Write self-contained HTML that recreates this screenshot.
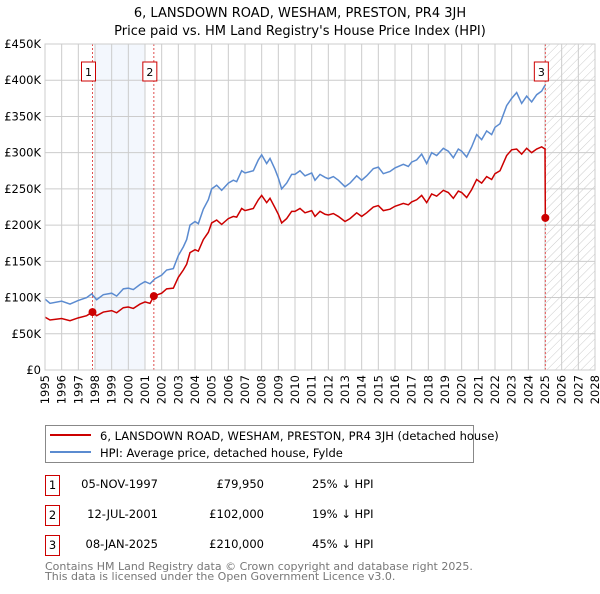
<!DOCTYPE html>
<html><head><meta charset="utf-8"><style>
body{margin:0;background:#fff;font-family:"DejaVu Sans","Liberation Sans",sans-serif;}
svg text{font-family:"DejaVu Sans","Liberation Sans",sans-serif;}
</style></head><body>
<svg id="chart" width="600" height="590" xmlns="http://www.w3.org/2000/svg">
<defs><pattern id="hatch" width="6" height="6" patternUnits="userSpaceOnUse" patternTransform="rotate(45)"><line x1="0" y1="0" x2="0" y2="6" stroke="#ccc" stroke-width="1"/></pattern></defs>
<text x="300" y="17" text-anchor="middle" font-size="13">6, LANSDOWN ROAD, WESHAM, PRESTON, PR4 3JH</text>
<text x="300" y="35" text-anchor="middle" font-size="13">Price paid vs. HM Land Registry's House Price Index (HPI)</text>
<g id="plot"></g>
<g>
<rect x="45.5" y="425.5" width="428" height="37" fill="#fff" stroke="#888"/>
<line x1="50" y1="435" x2="91" y2="435" stroke="#cc0000" stroke-width="2"/>
<text x="100" y="440" font-size="11.5">6, LANSDOWN ROAD, WESHAM, PRESTON, PR4 3JH (detached house)</text>
<line x1="50" y1="452" x2="91" y2="452" stroke="#5b8bd0" stroke-width="2"/>
<text x="100" y="457" font-size="11.5">HPI: Average price, detached house, Fylde</text>
</g>
<g font-size="11.5">
<rect x="45.5" y="475.5" width="14" height="20" fill="#fff" stroke="#cc0000"/><text x="52.5" y="489" text-anchor="middle">1</text>
<text x="158" y="488" text-anchor="end">05-NOV-1997</text><text x="264" y="488" text-anchor="end">£79,950</text><text x="312" y="488">25% ↓ HPI</text>
<rect x="45.5" y="505.5" width="14" height="20" fill="#fff" stroke="#cc0000"/><text x="52.5" y="519" text-anchor="middle">2</text>
<text x="158" y="518" text-anchor="end">12-JUL-2001</text><text x="264" y="518" text-anchor="end">£102,000</text><text x="312" y="518">19% ↓ HPI</text>
<rect x="45.5" y="535.5" width="14" height="20" fill="#fff" stroke="#cc0000"/><text x="52.5" y="549" text-anchor="middle">3</text>
<text x="158" y="548" text-anchor="end">08-JAN-2025</text><text x="264" y="548" text-anchor="end">£210,000</text><text x="312" y="548">45% ↓ HPI</text>
</g>
<text x="45" y="570" font-size="11" fill="#777">Contains HM Land Registry data © Crown copyright and database right 2025.</text>
<text x="45" y="580" font-size="11" fill="#777">This data is licensed under the Open Government Licence v3.0.</text>
</svg>
<script>
const hpiDates=[1995,1995.3,1996,1996.5,1997,1997.5,1997.8,1998.1,1998.5,1999,1999.3,1999.7,2000,2000.3,2000.7,2001,2001.3,2001.6,2002,2002.3,2002.7,2003,2003.3,2003.5,2003.7,2004,2004.2,2004.5,2004.8,2005,2005.3,2005.6,2006,2006.3,2006.5,2006.8,2007,2007.5,2007.8,2008,2008.3,2008.5,2008.8,2009,2009.2,2009.5,2009.8,2010,2010.3,2010.6,2011,2011.2,2011.5,2011.8,2012,2012.3,2012.6,2013,2013.3,2013.7,2014,2014.3,2014.7,2015,2015.3,2015.7,2016,2016.5,2016.8,2017,2017.3,2017.6,2017.9,2018.2,2018.5,2018.9,2019.2,2019.5,2019.8,2020,2020.3,2020.6,2020.9,2021.2,2021.5,2021.8,2022,2022.3,2022.7,2023,2023.3,2023.6,2023.9,2024.2,2024.5,2024.8,2025];
const hpiValues=[98,92,95,91,96,100,105,97,104,106,102,112,113,111,118,122,119,126,131,138,140,158,170,180,200,205,202,222,235,250,255,248,258,262,260,275,272,275,290,297,285,292,277,265,250,258,270,270,275,268,272,262,270,266,264,267,262,253,258,268,262,268,278,280,271,274,279,284,281,287,290,298,285,300,296,306,302,293,305,302,294,308,325,318,330,325,335,340,365,375,383,368,378,370,380,385,393];
const priceDates=[1995,1995.3,1996,1996.5,1997,1997.5,1997.85,1998.1,1998.5,1999,1999.3,1999.7,2000,2000.3,2000.7,2001,2001.3,2001.53,2002,2002.3,2002.7,2003,2003.3,2003.5,2003.7,2004,2004.2,2004.5,2004.8,2005,2005.3,2005.6,2006,2006.3,2006.5,2006.8,2007,2007.5,2007.8,2008,2008.3,2008.5,2008.8,2009,2009.2,2009.5,2009.8,2010,2010.3,2010.6,2011,2011.2,2011.5,2011.8,2012,2012.3,2012.6,2013,2013.3,2013.7,2014,2014.3,2014.7,2015,2015.3,2015.7,2016,2016.5,2016.8,2017,2017.3,2017.6,2017.9,2018.2,2018.5,2018.9,2019.2,2019.5,2019.8,2020,2020.3,2020.6,2020.9,2021.2,2021.5,2021.8,2022,2022.3,2022.7,2023,2023.3,2023.6,2023.9,2024.2,2024.5,2024.8,2025,2025.02];
const priceValues=[73,69,71,68,72,75,80,75,80,82,79,86,87,85,91,94,92,102,106,112,113,128,138,146,162,166,164,180,190,203,207,201,209,212,211,223,220,223,235,241,231,237,224,215,203,209,219,219,223,217,220,212,219,215,214,216,212,205,209,217,212,217,225,227,220,222,226,230,228,232,235,241,231,243,240,248,245,237,247,245,238,249,263,258,267,263,271,275,296,304,305,298,306,300,305,308,305,210];
const saleDates=[1997.85,2001.53,2025.02];
const salePrices=[79.95,102,210];
const saleLabels=["1","2","3"];
const yTicks=[0,50,100,150,200,250,300,350,400,450];
const yTickLabels=["£0","£50K","£100K","£150K","£200K","£250K","£300K","£350K","£400K","£450K"];
const xYears=[1995,1996,1997,1998,1999,2000,2001,2002,2003,2004,2005,2006,2007,2008,2009,2010,2011,2012,2013,2014,2015,2016,2017,2018,2019,2020,2021,2022,2023,2024,2025,2026,2027,2028];

const X0=45,X1=595,Y0=370,Y1=44;
const xs=v=>X0+(v-1995)/(2028-1995)*(X1-X0);
const ys=v=>Y0-v/450*(Y0-Y1);
const NS="http://www.w3.org/2000/svg";
const g=document.getElementById('plot');
function mk(t,a){const e=document.createElementNS(NS,t);for(const k in a)e.setAttribute(k,a[k]);g.appendChild(e);return e;}

let e=mk('rect',{x:xs(1998),y:Y1,width:xs(2001)-xs(1998),height:Y0-Y1,fill:'#eef3fc',opacity:0.7});


e=mk('rect',{x:xs(2025),y:Y1,width:X1-xs(2025),height:Y0-Y1,fill:'url(#hatch)'});


xYears.forEach(y=>{
 e=mk('line',{x1:xs(y),x2:xs(y),y1:Y1,y2:Y0,stroke:'#ccc','stroke-width':1});
 
 
 e=mk('text',{x:0,y:0,'font-size':11.5,'text-anchor':'end',transform:`translate(${xs(y)+4},${Y0+5}) rotate(-90)`});
 e.textContent=y;
 
 
});
yTicks.forEach((t,i)=>{
 e=mk('line',{x1:X0,x2:X1,y1:ys(t),y2:ys(t),stroke:'#ccc','stroke-width':1});
 
 
 e=mk('text',{x:X0-4,y:ys(t)+4,'font-size':11.5,'text-anchor':'end'});
 e.textContent=yTickLabels[i];
 
 
});
saleDates.forEach(d=>{
 e=mk('line',{x1:xs(d),x2:xs(d),y1:Y1,y2:Y0,stroke:'#e05050','stroke-width':1,'stroke-dasharray':'2,2'});
 
 
});
e=mk('polyline',{points:hpiDates.map((d,i)=>xs(d)+','+ys(hpiValues[i])).join(' '),fill:'none',stroke:'#5b8bd0','stroke-width':1.5});


e=mk('polyline',{points:priceDates.map((d,i)=>xs(d)+','+ys(priceValues[i])).join(' '),fill:'none',stroke:'#cc0000','stroke-width':1.5});


saleDates.forEach((d,i)=>{
 e=mk('circle',{cx:xs(d),cy:ys(salePrices[i]),r:4,fill:'#cc0000'});
 
 
 e=mk('rect',{x:xs(d)-11,y:62,width:14,height:19,fill:'#fff',stroke:'#cc0000'});
 
 
 e=mk('text',{x:xs(d)-4,y:76,'font-size':11,'text-anchor':'middle'});
 e.textContent=saleLabels[i];
 
 
});
e=mk('rect',{x:X0,y:Y1,width:X1-X0,height:Y0-Y1,fill:'none',stroke:'#ccc'});


</script>
</body></html>
